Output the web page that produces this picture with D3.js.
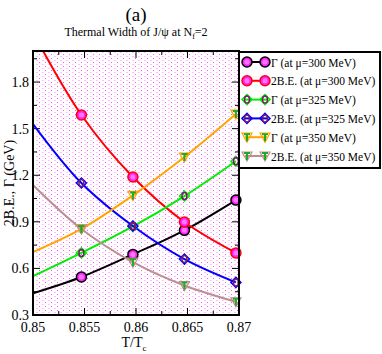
<!DOCTYPE html>
<html>
<head>
<meta charset="utf-8">
<script src="https://d3js.org/d3.v7.min.js"></script>
<style>
  body { margin: 0; background: #fff; }
</style>
</head>
<body>
<svg id="chart" width="382" height="354"></svg>
<script>
// --- data ---
const tPoints = [0.8547, 0.8597, 0.8647, 0.8697];        // computed points
const tFit = [0.85, 0.8547, 0.8597, 0.8647, 0.8697];     // fit curve knots

const gamma300 = [0.545, 0.69, 0.845, 1.04];
const be300 = [1.588, 1.189, 0.899, 0.70];
const gamma325 = [0.70, 0.87, 1.066, 1.29];
const be325 = [1.15, 0.873, 0.66, 0.51];
const gamma350 = [0.854, 1.07, 1.317, 1.594];
const be350 = [0.854, 0.64, 0.49, 0.385];

const fitGamma300 = [0.44, 0.545, 0.69, 0.845, 1.04];
const fitBe300 = [2.12, 1.588, 1.189, 0.899, 0.70];
const fitGamma325 = [0.55, 0.70, 0.87, 1.066, 1.29];
const fitBe325 = [1.53, 1.15, 0.873, 0.66, 0.51];
const fitGamma350 = [0.705, 0.854, 1.07, 1.317, 1.594];
const fitBe350 = [1.137, 0.854, 0.64, 0.49, 0.385];

const xTicks = [0.85, 0.855, 0.86, 0.865, 0.87];
const yTicks = [0.3, 0.6, 0.9, 1.2, 1.5, 1.8];

const seriesLabels = [
  "\u0393 (at \u03bc=300 MeV)",
  "2B.E. (at \u03bc=300 MeV)",
  "\u0393 (at \u03bc=325 MeV)",
  "2B.E. (at \u03bc=325 MeV)",
  "\u0393 (at \u03bc=350 MeV)",
  "2B.E. (at \u03bc=350 MeV)"
];

const series = [
  { label: seriesLabels[0], pts: gamma300, fit: fitGamma300, color: "#000000", marker: "circle" },
  { label: seriesLabels[1], pts: be300, fit: fitBe300, color: "#ff0000", marker: "circle" },
  { label: seriesLabels[2], pts: gamma325, fit: fitGamma325, color: "#00ee00", marker: "diamond" },
  { label: seriesLabels[3], pts: be325, fit: fitBe325, color: "#0000ff", marker: "diamond" },
  { label: seriesLabels[4], pts: gamma350, fit: fitGamma350, color: "#ffa500", marker: "tri" },
  { label: seriesLabels[5], pts: be350, fit: fitBe350, color: "#bc8f8f", marker: "tri" }
];

const FONT = "'Liberation Serif'";

// --- layout ---
const svg = d3.select("#chart");
const plot = { left: 33, top: 51, right: 239, bottom: 315 };

const x = d3.scaleLinear().domain([0.85, 0.87]).range([plot.left, plot.right]);
const y = d3.scaleLinear().domain([0.3, 2.0]).range([plot.bottom, plot.top]);

// dotted pink background
const defs = svg.append("defs");
const pat = defs.append("pattern")
  .attr("id", "dots").attr("patternUnits", "userSpaceOnUse")
  .attr("width", 6).attr("height", 4);
pat.append("rect").attr("width", 6).attr("height", 4).attr("fill", "#fff");
pat.append("rect").attr("x", 0).attr("y", 0).attr("width", 2).attr("height", 1).attr("fill", "#ffc4ff");
pat.append("rect").attr("x", 3).attr("y", 2).attr("width", 1).attr("height", 1).attr("fill", "#ff55ff");

defs.append("clipPath").attr("id", "clip").append("rect")
  .attr("x", plot.left).attr("y", plot.top)
  .attr("width", plot.right - plot.left).attr("height", plot.bottom - plot.top);

svg.append("rect")
  .attr("x", plot.left).attr("y", plot.top)
  .attr("width", plot.right - plot.left).attr("height", plot.bottom - plot.top)
  .attr("fill", "url(#dots)");

// titles
svg.append("text").attr("x", 136).attr("y", 21).attr("text-anchor", "middle")
  .style("font-family", FONT).style("font-size", "19px").text("(a)");
const sub = svg.append("text").attr("x", 136).attr("y", 36).attr("text-anchor", "middle")
  .style("font-family", FONT).style("font-size", "12px");
sub.append("tspan").text("Thermal Width of J/\u03c8 at N");
sub.append("tspan").attr("dy", 3).style("font-size", "8px").text("f");
sub.append("tspan").attr("dy", -3).text("=2");

// ticks (inward, all four sides)
const majorLen = 7, minorLen = 4;
const xMinor = d3.range(0.85, 0.87001, 0.0025);
const yMinor = d3.range(0.3, 2.0001, 0.15);
const tickG = svg.append("g").attr("stroke", "#000").attr("stroke-width", 1);
xMinor.forEach(v => {
  const major = xTicks.some(t => Math.abs(t - v) < 1e-6);
  const len = major ? majorLen : minorLen;
  tickG.append("line").attr("x1", x(v)).attr("x2", x(v)).attr("y1", plot.bottom).attr("y2", plot.bottom - len);
  tickG.append("line").attr("x1", x(v)).attr("x2", x(v)).attr("y1", plot.top).attr("y2", plot.top + len);
});
yMinor.forEach(v => {
  const major = yTicks.some(t => Math.abs(t - v) < 1e-6);
  const len = major ? majorLen : minorLen;
  tickG.append("line").attr("y1", y(v)).attr("y2", y(v)).attr("x1", plot.left).attr("x2", plot.left + len);
  tickG.append("line").attr("y1", y(v)).attr("y2", y(v)).attr("x1", plot.right).attr("x2", plot.right - len);
});

// tick labels
svg.append("g").selectAll("text").data(xTicks).join("text")
  .attr("x", d => x(d)).attr("y", 332).attr("text-anchor", "middle")
  .style("font-family", FONT).style("font-size", "14px").text(d => d3.format(".3~f")(d));
svg.append("g").selectAll("text").data(yTicks).join("text")
  .attr("x", 29).attr("y", d => y(d) + 5).attr("text-anchor", "end")
  .style("font-family", FONT).style("font-size", "14px").text(d => d.toFixed(1));

// axis labels
const xl = svg.append("text").attr("x", 134).attr("y", 347).attr("text-anchor", "middle")
  .style("font-family", FONT).style("font-size", "14px");
xl.append("tspan").text("T/T");
xl.append("tspan").attr("dy", 4).style("font-size", "9px").text("c");

svg.append("text")
  .attr("transform", `translate(14,${(plot.top + plot.bottom) / 2}) rotate(-90)`)
  .attr("text-anchor", "middle").style("font-family", FONT).style("font-size", "14px")
  .text("2B.E., \u0393 (GeV)");

// curves
const line = d3.line().x(d => x(d[0])).y(d => y(d[1])).curve(d3.curveCatmullRom.alpha(0.5));
const curves = svg.append("g").attr("clip-path", "url(#clip)");
series.forEach(s => {
  curves.append("path")
    .attr("d", line(tFit.map((t, i) => [t, s.fit[i]])))
    .attr("fill", "none").attr("stroke", s.color).attr("stroke-width", 2);
});

// markers
function drawMarker(g, s, cx, cy) {
  if (s.marker === "circle") {
    g.append("circle").attr("cx", cx).attr("cy", cy).attr("r", 5)
      .attr("fill", "#ff22ff").attr("stroke", s.color).attr("stroke-width", 1.5);
    g.append("circle").attr("cx", cx).attr("cy", cy).attr("r", 2.5).attr("fill", "#ff77ff");
  } else if (s.marker === "diamond") {
    g.append("path").attr("d", `M${cx - 5},${cy} L${cx},${cy - 5} L${cx + 5},${cy} L${cx},${cy + 5} Z`)
      .attr("fill", "none").attr("stroke", s.color).attr("stroke-width", 1.5);
    g.append("ellipse").attr("cx", cx).attr("cy", cy).attr("rx", 2.5).attr("ry", 3.5)
      .attr("fill", "none").attr("stroke", "#7a1a6a").attr("stroke-width", 1.5);
  } else {
    g.append("path").attr("d", `M${cx - 5},${cy - 4} L${cx + 5},${cy - 4} L${cx},${cy + 5} Z`)
      .attr("fill", "none").attr("stroke", s.color).attr("stroke-width", 1.2);
    g.append("path").attr("d", `M${cx - 3},${cy - 3} L${cx + 3},${cy - 3} M${cx},${cy - 3} L${cx},${cy + 4}`)
      .attr("fill", "none").attr("stroke", "#22aa22").attr("stroke-width", 2);
  }
}
const markG = svg.append("g");
series.forEach(s => {
  s.pts.forEach((v, i) => drawMarker(markG, s, x(tPoints[i]), y(v)));
});

// frame
svg.append("rect")
  .attr("x", plot.left).attr("y", plot.top)
  .attr("width", plot.right - plot.left).attr("height", plot.bottom - plot.top)
  .attr("fill", "none").attr("stroke", "#000").attr("stroke-width", 2);

// legend
const leg = svg.append("g");
leg.append("rect").attr("x", 239).attr("y", 52).attr("width", 141).attr("height", 116)
  .attr("fill", "#fff").attr("stroke", "#000").attr("stroke-width", 2);
series.forEach((s, i) => {
  const ly = 62 + i * 18.8;
  leg.append("line").attr("x1", 245).attr("x2", 267).attr("y1", ly).attr("y2", ly)
    .attr("stroke", s.color).attr("stroke-width", 2);
  drawMarker(leg, s, 247, ly);
  drawMarker(leg, s, 265, ly);
  leg.append("text").attr("x", 271).attr("y", ly + 4.5)
    .style("font-family", FONT).style("font-size", "11.5px").text(s.label);
});
</script>
</body>
</html>
